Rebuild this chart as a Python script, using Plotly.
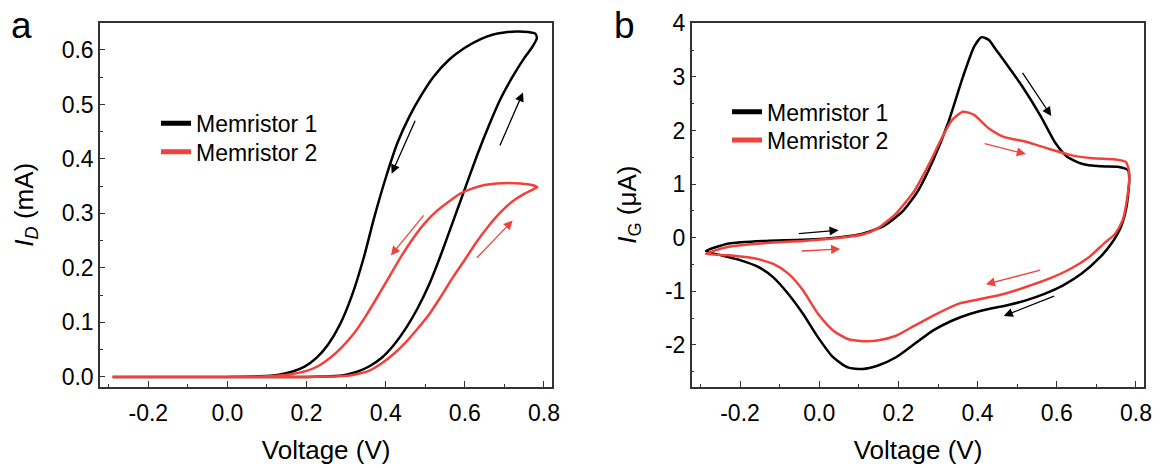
import plotly.graph_objects as go

# ---------------- data ----------------
# Panel a: drain current I_D (mA) vs voltage (V), closed sweep loops
a_m1_v = [-0.29, 0.0, 0.2, 0.26, 0.3, 0.33, 0.36, 0.39, 0.42, 0.45, 0.48, 0.51, 0.54, 0.57, 0.6, 0.63,
          0.66, 0.69, 0.72, 0.75, 0.77, 0.782, 0.778, 0.76, 0.73, 0.7, 0.67, 0.64, 0.6, 0.56, 0.52, 0.49,
          0.46, 0.43, 0.4, 0.37, 0.345, 0.315, 0.285, 0.255, 0.225, 0.195, 0.165, 0.13, 0.08, 0.0, -0.29]
a_m1_i = [0.0, 0.0, 0.0, 0.001, 0.004, 0.01, 0.02, 0.035, 0.058, 0.088, 0.125, 0.17, 0.225, 0.285, 0.345, 0.405,
          0.46, 0.51, 0.55, 0.585, 0.605, 0.622, 0.63, 0.633, 0.634, 0.632, 0.628, 0.62, 0.604, 0.582, 0.55, 0.517,
          0.478, 0.43, 0.365, 0.29, 0.22, 0.15, 0.097, 0.06, 0.035, 0.019, 0.01, 0.004, 0.001, 0.0, 0.0]

a_m2_v = [-0.29, 0.2, 0.28, 0.32, 0.36, 0.39, 0.42, 0.45, 0.48, 0.51, 0.54, 0.57, 0.6, 0.63, 0.66, 0.69,
          0.72, 0.75, 0.775, 0.783, 0.77, 0.74, 0.71, 0.68, 0.65, 0.62, 0.59, 0.56, 0.53, 0.5, 0.47, 0.44,
          0.41, 0.38, 0.35, 0.32, 0.29, 0.26, 0.23, 0.2, 0.16, 0.1, 0.0, -0.29]
a_m2_i = [0.0, 0.0, 0.001, 0.004, 0.012, 0.025, 0.042, 0.063, 0.088, 0.115, 0.148, 0.183, 0.215, 0.248, 0.277, 0.302,
          0.322, 0.336, 0.345, 0.348, 0.352, 0.355, 0.356, 0.355, 0.352, 0.346, 0.337, 0.322, 0.305, 0.283, 0.255, 0.222,
          0.185, 0.148, 0.112, 0.08, 0.055, 0.035, 0.02, 0.011, 0.005, 0.001, 0.0, 0.0]

# Panel b: gate current I_G (uA) vs voltage (V)
b_m1_v = [-0.286, -0.228, -0.134, -0.041, 0.053, 0.11, 0.166, 0.213, 0.25, 0.288, 0.325, 0.363, 0.391, 0.41,
          0.428, 0.445, 0.466, 0.513, 0.56, 0.597, 0.626, 0.663, 0.71, 0.757, 0.78, 0.783, 0.776, 0.762, 0.738, 0.71,
          0.663, 0.616, 0.569, 0.522, 0.475, 0.428, 0.382, 0.335, 0.288, 0.241, 0.194, 0.147, 0.11, 0.072, 0.035,
          -0.003, -0.041, -0.078, -0.116, -0.153, -0.2, -0.247, -0.286]
b_m1_i = [-0.25, -0.11, -0.06, -0.04, 0.01, 0.075, 0.23, 0.51, 0.88, 1.45, 2.13, 3.0, 3.56, 3.74,
          3.69, 3.52, 3.31, 2.82, 2.26, 1.76, 1.51, 1.38, 1.33, 1.32, 1.26, 1.07, 0.57, 0.2, -0.11, -0.36,
          -0.67, -0.89, -1.05, -1.17, -1.26, -1.33, -1.42, -1.55, -1.73, -1.98, -2.23, -2.39, -2.45, -2.42, -2.23,
          -1.86, -1.42, -1.05, -0.74, -0.55, -0.42, -0.33, -0.25]

b_m2_v = [-0.286, -0.228, -0.134, -0.041, 0.053, 0.11, 0.147, 0.194, 0.241, 0.278, 0.307, 0.335, 0.363, 0.391,
          0.428, 0.466, 0.522, 0.579, 0.635, 0.691, 0.748, 0.775, 0.783, 0.777, 0.766, 0.747, 0.719, 0.682,
          0.635, 0.579, 0.522, 0.466, 0.41, 0.353, 0.297, 0.241, 0.194, 0.147, 0.11, 0.072, 0.035, -0.003,
          -0.041, -0.078, -0.116, -0.162, -0.228, -0.286]
b_m2_i = [-0.3, -0.17, -0.1, -0.06, 0.0, 0.06, 0.17, 0.45, 0.88, 1.38, 1.82, 2.19, 2.35, 2.29,
          2.04, 1.88, 1.79, 1.66, 1.54, 1.48, 1.46, 1.41, 1.2, 0.7, 0.32, 0.07, -0.11, -0.36,
          -0.58, -0.77, -0.92, -1.05, -1.14, -1.23, -1.42, -1.64, -1.83, -1.92, -1.93, -1.89, -1.73, -1.42,
          -0.98, -0.67, -0.49, -0.39, -0.33, -0.3]

series_names = ["Memristor 1", "Memristor 2"]

# direction arrows: (tail V, tail I, head V, head I)
a_arrows_m1 = [(0.476, 0.473, 0.415, 0.373), (0.687, 0.422, 0.747, 0.522)]
a_arrows_m2 = [(0.499, 0.299, 0.413, 0.223), (0.627, 0.216, 0.721, 0.287)]
b_arrows_m1 = [(0.511, 3.1, 0.586, 2.27), (-0.055, 0.075, 0.049, 0.14), (0.597, -1.08, 0.466, -1.46)]
b_arrows_m2 = [(0.414, 1.76, 0.522, 1.56), (-0.048, -0.25, 0.053, -0.21), (0.562, -0.6, 0.421, -0.87)]

x_tickvals = [-0.2, 0.0, 0.2, 0.4, 0.6, 0.8]
x_ticktext = ["-0.2", "0.0", "0.2", "0.4", "0.6", "0.8"]
x_top_ticks = [-0.3, -0.1, 0.1, 0.3, 0.5, 0.7]
ya_tickvals = [0.0, 0.1, 0.2, 0.3, 0.4, 0.5, 0.6]
ya_ticktext = ["0.0", "0.1", "0.2", "0.3", "0.4", "0.5", "0.6"]
yb_tickvals = [-2, -1, 0, 1, 2, 3, 4]
yb_ticktext = ["-2", "-1", "0", "1", "2", "3", "4"]

# ---------------- style ----------------
BLACK = "#000000"
RED = "#F0413C"
AXC = "#333333"
FONT = "Liberation Sans, Arial, sans-serif"
colors = [BLACK, RED]
W, H = 1163, 468

fig = go.Figure()

line_kw = dict(shape="spline", smoothing=0.6, width=2.5)
for v, i, c in [(a_m1_v, a_m1_i, BLACK), (a_m2_v, a_m2_i, RED)]:
    fig.add_trace(go.Scatter(x=v, y=i, mode="lines", line=dict(color=c, **line_kw),
                             xaxis="x", yaxis="y", showlegend=False, hoverinfo="skip"))
for v, i, c in [(b_m1_v, b_m1_i, BLACK), (b_m2_v, b_m2_i, RED)]:
    fig.add_trace(go.Scatter(x=v, y=i, mode="lines", line=dict(color=c, **line_kw),
                             xaxis="x2", yaxis="y2", showlegend=False, hoverinfo="skip"))

# legend entries (thick line samples), one legend box per entry for exact placement
legend_ids = [["legend", "legend2"], ["legend3", "legend4"]]
for p, (xa, ya) in enumerate([("x", "y"), ("x2", "y2")]):
    for k, (name, c) in enumerate(zip(series_names, colors)):
        fig.add_trace(go.Scatter(x=[None], y=[None], mode="lines", name=name,
                                 line=dict(color=c, width=5), xaxis=xa, yaxis=ya,
                                 legend=legend_ids[p][k]))

annotations = []
def add_arrows(arrs, color, xr, yr):
    for (tx, ty, hx, hy) in arrs:
        annotations.append(dict(x=hx, y=hy, ax=tx, ay=ty, xref=xr, yref=yr, axref=xr, ayref=yr,
                                text="", showarrow=True, arrowhead=2, arrowsize=1.4,
                                arrowwidth=1.3, arrowcolor=color, standoff=0, startstandoff=0))
add_arrows(a_arrows_m1, BLACK, "x", "y")
add_arrows(a_arrows_m2, RED, "x", "y")
add_arrows(b_arrows_m1, BLACK, "x2", "y2")
add_arrows(b_arrows_m2, RED, "x2", "y2")

for lab, px in [("a", 21), ("b", 624)]:
    annotations.append(dict(text=lab, x=px / W, y=1 - 48 / H, xref="paper", yref="paper",
                            xanchor="center", yanchor="bottom", showarrow=False,
                            font=dict(family=FONT, size=37, color="black")))

XD1 = [100 / W, 552.3 / W]
XD2 = [691.7 / W, 1144.3 / W]
YD = [1 - 386.7 / H, 1 - 22.7 / H]
XR = [-0.322, 0.821]

tickfont = dict(family=FONT, size=23, color="black")
titlefont = dict(family=FONT, size=26, color="black")
legfont = dict(family=FONT, size=23, color="black")

def xaxis(domain, anchor):
    return dict(domain=domain, anchor=anchor, range=XR, tickmode="array", tickvals=x_tickvals,
                ticktext=x_ticktext, ticks="inside", ticklen=6, tickwidth=1.3, tickcolor=AXC,
                minor=dict(tickmode="linear", tick0=-0.3, dtick=0.1, ticks="inside", ticklen=3,
                           tickwidth=1.2, tickcolor=AXC),
                showline=True, linecolor=AXC, linewidth=1.5, mirror=True, showgrid=False,
                zeroline=False, tickfont=tickfont, automargin=False, ticklabelstandoff=5,
                title=dict(text="Voltage (V)", font=titlefont, standoff=16))

def topaxis(overlay, anchor):
    return dict(overlaying=overlay, anchor=anchor, side="top", range=XR, tickmode="array",
                tickvals=x_top_ticks, ticks="inside", ticklen=4, tickwidth=1.2, tickcolor=AXC,
                showticklabels=False, showline=False, showgrid=False, zeroline=False,
                automargin=False)

def yaxis(anchor, rng, tv, tt, mdt, title):
    return dict(domain=YD, anchor=anchor, range=rng, tickmode="array", tickvals=tv,
                ticktext=tt, ticks="inside", ticklen=5, tickwidth=1.3, tickcolor=AXC,
                minor=dict(tickmode="linear", tick0=0, dtick=mdt, ticks="inside", ticklen=3,
                           tickwidth=1.2, tickcolor=AXC),
                showline=True, linecolor=AXC, linewidth=1.5, mirror=True, showgrid=False,
                zeroline=False, tickfont=tickfont, automargin=False,
                title=dict(text=title, font=titlefont, standoff=21))

def legend_box(xpx, ypx):
    return dict(x=xpx / W, y=1 - ypx / H, xanchor="left", yanchor="middle",
                bgcolor="rgba(0,0,0,0)", font=legfont, itemwidth=30)

fig.update_layout(
    width=W, height=H,
    margin=dict(l=0, r=0, t=0, b=0),
    paper_bgcolor="white", plot_bgcolor="white",
    font=dict(family=FONT, color="black"),
    xaxis=xaxis(XD1, "y"),
    xaxis2=xaxis(XD2, "y2"),
    xaxis3=topaxis("x", "y"),
    xaxis4=topaxis("x2", "y2"),
    yaxis=yaxis("x", [-0.018, 0.65], ya_tickvals, ya_ticktext, 0.05,
                "<i>I</i><sub><i>D</i></sub> (mA)"),
    yaxis2=yaxis("x2", [-2.78, 4.01], yb_tickvals, yb_ticktext, 0.5,
                 "<i>I</i><sub>G</sub> (\u03bcA)"),
    legend=legend_box(156, 123.3),
    legend2=legend_box(156, 151.7),
    legend3=legend_box(727, 111.7),
    legend4=legend_box(727, 140),
    annotations=annotations,
)

fig.write_html("out.html", config={"displayModeBar": False},
               post_script="document.body.style.margin='0';document.body.style.padding='0';")
